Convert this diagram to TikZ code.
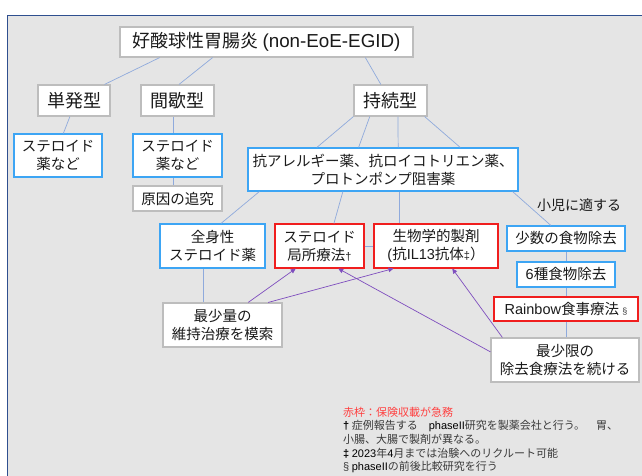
\documentclass[tikz,border=0pt]{standalone}
\usepackage{fontspec}
\setmainfont{Noto Sans CJK JP}
\newfontfamily\latf{Liberation Sans}
\usetikzlibrary{calc,arrows.meta}
\definecolor{panel}{HTML}{E5E5E5}
\definecolor{frame}{HTML}{2F4F8F}
\definecolor{gborder}{HTML}{BDBDBD}
\definecolor{bborder}{HTML}{3DA5F4}
\definecolor{rborder}{HTML}{F01E1E}
\definecolor{connc}{HTML}{8FAADC}
\definecolor{arrc}{HTML}{7E4DBE}
\definecolor{txt}{HTML}{1A1A1A}
\definecolor{notec}{HTML}{3A3A3A}
\definecolor{notered}{HTML}{FF4040}
\newcommand\fA{\fontsize{18}{22}\selectfont}
\newcommand\fB{\fontsize{14.5}{18}\selectfont}
\newcommand\fN{\fontsize{11}{13}\selectfont}
\newcommand\smsym[1]{{\latf\fontsize{11}{11}\selectfont #1}}
\begin{document}
\begin{tikzpicture}[x=1pt,y=-1pt,
  box/.style={draw, fill=white, line width=1.1pt, inner sep=0pt, align=center, text=txt},
  gbox/.style={box, draw=gborder},
  bbox/.style={box, draw=bborder},
  rbox/.style={box, draw=rborder},
  conn/.style={draw=connc, line width=0.7pt},
  arr/.style={draw=arrc, line width=0.7pt, -{Triangle[length=5pt,width=4.5pt]}},
  note/.style={anchor=west, inner sep=0pt, font=\fN, text=notec}]
\useasboundingbox (0,0) rectangle (642,476);
\clip (0,0) rectangle (642,476);
\fill[white] (0,0) rectangle (642,476);
\filldraw[fill=panel, draw=frame, line width=1.2pt] (7.5,15.5) rectangle (660,490);

% nodes
\node[gbox, font=\fA, minimum width=293pt, minimum height=30pt] (title) at (266.5,42) {好酸球性胃腸炎 {\latf\fontsize{18.8}{22}\selectfont (non-EoE-EGID)}};
\node[gbox, font=\fA, minimum width=72pt, minimum height=31pt] (tan) at (74,100.5) {単発型};
\node[gbox, font=\fA, minimum width=73pt, minimum height=31pt] (kan) at (177.5,100.5) {間歇型};
\node[gbox, font=\fA, minimum width=73pt, minimum height=31pt] (ji) at (390.5,100.5) {持続型};
\node[bbox, font=\fB, minimum width=88pt, minimum height=43pt] (st1) at (58,155.5) {ステロイド\\薬など};
\node[bbox, font=\fB, minimum width=89pt, minimum height=43pt] (st2) at (177.5,155.5) {ステロイド\\薬など};
\node[gbox, font=\fB, minimum width=89pt, minimum height=25pt] (gen) at (177.5,198.5) {原因の追究};
\node[bbox, font=\fB, minimum width=270pt, minimum height=43pt] (ko) at (383,169.5) {抗アレルギー薬、抗ロイコトリエン薬、\\プロトンポンプ阻害薬};
\node[bbox, font=\fB, minimum width=105pt, minimum height=44pt] (zen) at (212.5,246) {全身性\\ステロイド薬};
\node[rbox, font=\fB, minimum width=89pt, minimum height=44pt] (kyo) at (319.5,246) {ステロイド\\局所療法\smsym{†}};
\node[rbox, font=\fB, minimum width=124pt, minimum height=44pt] (sei) at (436,246) {生物学的製剤\\{\latf (}抗{\latf IL13}抗体\smsym{‡}）};
\node[bbox, font=\fB, minimum width=118pt, minimum height=25pt] (sho) at (566,238.5) {少数の食物除去};
\node[bbox, font=\fB, minimum width=98pt, minimum height=25pt] (six) at (566,274.5) {{\latf 6}種食物除去};
\node[rbox, font=\fB, minimum width=144pt, minimum height=24pt] (rain) at (566,309) {{\latf Rainbow}食事療法 {\latf\fontsize{9}{9}\selectfont\color{notec}§}};
\node[gbox, font=\fB, minimum width=119pt, minimum height=44pt] (min1) at (222.5,325) {最少量の\\維持治療を模索};
\node[gbox, font=\fB, minimum width=148pt, minimum height=44pt] (min2) at (565,360) {最少限の\\除去食療法を続ける};
\node[inner sep=0pt, font=\fontsize{14}{16}\selectfont, text=txt] (child) at (579,205) {小児に適する};

% connectors
\draw[conn] ($(title.south west)!0.137!(title.south east)$) -- ($(tan.north west)!0.917!(tan.north east)$);
\draw[conn] ($(title.south west)!0.317!(title.south east)$) -- ($(kan.north west)!0.52!(kan.north east)$);
\draw[conn] ($(title.south west)!0.836!(title.south east)$) -- ($(ji.north west)!0.37!(ji.north east)$);
\draw[conn] ($(tan.south west)!0.444!(tan.south east)$) -- ($(st1.north west)!0.56!(st1.north east)$);
\coordinate (kb) at ($(kan.south west)!0.44!(kan.south east)$);
\draw[conn] (kb) -- (kb |- st2.north);
\draw[conn] (kb |- st2.south) -- (kb |- gen.north);
\draw[conn] (ji.south west) -- ($(ko.north west)!0.256!(ko.north east)$);
\draw[conn] ($(ji.south west)!0.22!(ji.south east)$) -- ($(ko.north west)!0.41!(ko.north east)$);
\draw[conn] ($(ji.south west)!0.60!(ji.south east)$) -- ($(ko.north west)!0.556!(ko.north east)$);
\draw[conn] ($(ji.south west)!0.96!(ji.south east)$) -- ($(ko.north west)!0.785!(ko.north east)$);
\draw[conn] ($(ko.south west)!0.044!(ko.south east)$) -- ($(zen.north west)!0.58!(zen.north east)$);
\draw[conn] ($(ko.south west)!0.352!(ko.south east)$) -- ($(kyo.north west)!0.66!(kyo.north east)$);
\coordinate (kv) at ($(ko.south west)!0.56!(ko.south east)$);
\draw[conn] (kv) -- (kv |- sei.north);
\draw[conn] ($(ko.south west)!0.978!(ko.south east)$) -- ($(sho.north west)!0.373!(sho.north east)$);
\draw[conn] (kyo.east) -- (sei.west);
\draw[conn] (sho.south) -- (six.north);
\draw[conn] (six.south) -- (rain.north);
\draw[conn] (rain.south) -- (rain.south |- min2.north);
\coordinate (zb) at ($(zen.south west)!0.41!(zen.south east)$);
\draw[conn] (zb) -- (zb |- min1.north);

% arrows
\draw[arr] ($(min1.north west)!0.714!(min1.north east)$) -- ($(kyo.south west)!0.236!(kyo.south east)$);
\draw[arr] ($(min1.north west)!0.88!(min1.north east)$) -- ($(sei.south west)!0.16!(sei.south east)$);
\draw[arr] ($(min2.north west)!0.32!(min2.south west)$) -- ($(kyo.south west)!0.708!(kyo.south east)$);
\draw[arr] ($(min2.north west)!0.08!(min2.north east)$) -- ($(sei.south west)!0.63!(sei.south east)$);

% notes
\node[note, text=notered] (n1) at (343,412) {赤枠：保険収載が急務};
\node[note] (n2) at (343,426.5) {{\latf\bfseries\color{black}†} 症例報告する　{\latf\color{black}phaseII}研究を製薬会社と行う。　胃、};
\node[note] (n3) at (343,439) {小腸、大腸で製剤が異なる。};
\node[note] (n4) at (343,453) {{\latf\bfseries\color{black}‡} {\latf\color{black}2023}年{\latf\color{black}4}月までは治験へのリクルート可能};
\node[note] (n5) at (343,466.5) {{\latf §} {\latf\color{black}phaseII}の前後比較研究を行う};
\end{tikzpicture}
\end{document}
